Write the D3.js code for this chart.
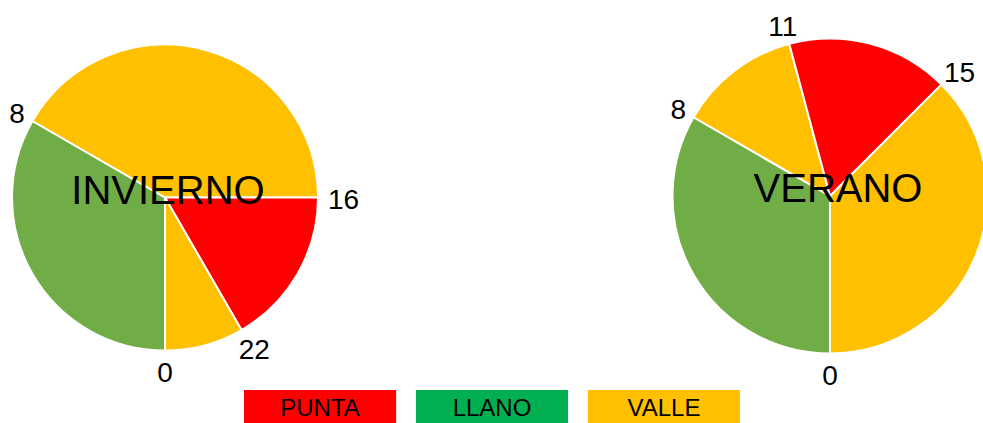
<!DOCTYPE html>
<html>
<head>
<meta charset="utf-8">
<script src="https://cdn.jsdelivr.net/npm/d3@7"></script>
<style>
  html, body { margin: 0; padding: 0; background: #fff; }
  svg { display: block; font-family: "Liberation Sans", Arial, sans-serif; }
</style>
</head>
<body>
<svg id="chart" width="983" height="423"></svg>
<script>
// ---- Data ----
const inviernoTitle = "INVIERNO";
const inviernoHours = [8, 10, 4, 2];
const inviernoTariff = ["LLANO", "VALLE", "PUNTA", "VALLE"];
const inviernoLabels = ["0", "8", "16", "22"];

const veranoTitle = "VERANO";
const veranoHours = [8, 3, 4, 9];
const veranoTariff = ["LLANO", "VALLE", "PUNTA", "VALLE"];
const veranoLabels = ["0", "8", "11", "15"];

const legendNames = ["PUNTA", "LLANO", "VALLE"];

// ---- Styles ----
const sliceColor = d3.scaleOrdinal().domain(["PUNTA", "LLANO", "VALLE"]).range(["#FF0000", "#70AD47", "#FFC000"]);
const legendColor = d3.scaleOrdinal().domain(legendNames).range(["#FF0000", "#00B050", "#FFC000"]);

const svg = d3.select("#chart");

function drawPie(cx, cy, r, title, titleDx, hours, tariff, labels) {
  const data = hours.map((h, i) => ({ h, t: tariff[i], lab: labels[i] }));
  const pie = d3.pie().value(d => d.h).sort(null).startAngle(Math.PI).endAngle(3 * Math.PI);
  const arcs = pie(data);
  const arc = d3.arc().innerRadius(0).outerRadius(r);
  const g = svg.append("g").attr("transform", `translate(${cx},${cy})`);
  g.selectAll("path.slice").data(arcs).enter().append("path")
    .attr("class", "slice")
    .attr("d", arc)
    .attr("fill", d => sliceColor(d.data.t))
    .attr("stroke", "#fff")
    .attr("stroke-width", 2)
    .attr("stroke-linejoin", "round");

  // boundary labels at the start angle of each slice
  const fs = 28;
  g.selectAll("text.lab").data(arcs).enter().append("text")
    .attr("class", "lab")
    .attr("font-size", fs)
    .attr("fill", "#000")
    .attr("text-anchor", "middle")
    .attr("dominant-baseline", "central")
    .text(d => d.data.lab)
    .each(function (d) {
      const a = d.startAngle;
      const w = this.getComputedTextLength();
      const h = fs * 0.716;
      const x = Math.sin(a) * (r + 10 + w / 2);
      const y = -Math.cos(a) * (r + 10 + h / 2) + 2;
      d3.select(this).attr("x", x).attr("y", y);
    });

  g.append("text")
    .attr("x", titleDx).attr("y", 6)
    .attr("text-anchor", "middle")
    .attr("font-size", 40)
    .attr("fill", "#000")
    .text(title);
}

drawPie(165, 197.5, 153, inviernoTitle, 3, inviernoHours, inviernoTariff, inviernoLabels);
drawPie(830, 196, 157.5, veranoTitle, 8, veranoHours, veranoTariff, veranoLabels);

// ---- Legend ----
const lx = d3.scaleBand().domain(legendNames).range([244, 740]).paddingInner(0.115);
const lg = svg.append("g");
lg.selectAll("rect").data(legendNames).enter().append("rect")
  .attr("x", d => lx(d)).attr("y", 390)
  .attr("width", lx.bandwidth()).attr("height", 33)
  .attr("fill", d => legendColor(d));
lg.selectAll("text").data(legendNames).enter().append("text")
  .attr("x", d => lx(d) + lx.bandwidth() / 2).attr("y", 416)
  .attr("text-anchor", "middle")
  .attr("font-size", 24)
  .attr("fill", "#000")
  .text(d => d);
</script>
</body>
</html>
